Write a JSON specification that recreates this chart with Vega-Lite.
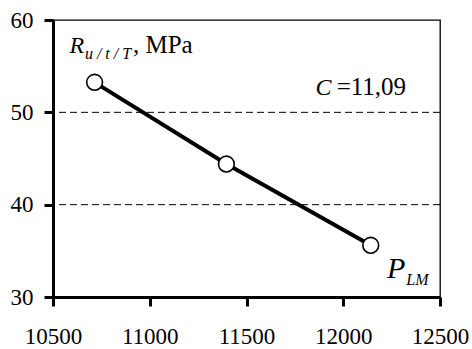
{
  "$schema": "https://vega.github.io/schema/vega-lite/v6.json",
  "width": 387,
  "height": 277,
  "autosize": {"type": "none"},
  "padding": {"left": 53, "top": 20, "right": 32, "bottom": 52},
  "config": {
    "font": "Liberation Serif",
    "view": {"stroke": "black", "strokeWidth": 1.3}
  },
  "datasets": {
    "series": [
      {"PLM": 10715, "R": 53.25},
      {"PLM": 11396, "R": 44.4},
      {"PLM": 12142, "R": 35.6}
    ],
    "grid": [{"R": 40}, {"R": 50}],
    "italicBig": [
      {"PLM": 10585, "R": 56.4, "label": "R"},
      {"PLM": 11856, "R": 51.9, "label": "C"}
    ],
    "italicP": [
      {"PLM": 12226, "R": 32.05, "label": "P"}
    ],
    "italicSub": [
      {"PLM": 10665, "R": 55.8, "label": "u / t / T"},
      {"PLM": 12326, "R": 31.29, "label": "LM"}
    ],
    "regular": [
      {"PLM": 10913, "R": 56.4, "label": ", MPa"},
      {"PLM": 11966, "R": 51.9, "label": "=11,09"}
    ]
  },
  "layer": [
    {
      "data": {"name": "grid"},
      "mark": {"type": "rule", "color": "black", "strokeWidth": 1, "strokeDash": [7, 4]},
      "encoding": {
        "y": {"field": "R", "type": "quantitative", "scale": {"domain": [30, 60], "nice": false, "zero": false}}
      }
    },
    {
      "data": {"name": "series"},
      "mark": {"type": "line", "color": "black", "strokeWidth": 4},
      "encoding": {
        "x": {"field": "PLM", "type": "quantitative", "scale": {"domain": [10500, 12500], "nice": false, "zero": false},
              "axis": {"values": [10500, 11000, 11500, 12000, 12500], "format": "d", "title": null, "grid": false, "labelFlush": false,
                       "labelFont": "Liberation Serif", "labelFontSize": 23, "labelColor": "black", "labelPadding": 19,
                       "tickSize": 9, "tickWidth": 3, "tickColor": "black", "domainWidth": 3, "domainColor": "black"}},
        "y": {"field": "R", "type": "quantitative", "scale": {"domain": [30, 60], "nice": false, "zero": false},
              "axis": {"values": [30, 40, 50, 60], "title": null, "grid": false, "labelFlush": false,
                       "labelFont": "Liberation Serif", "labelFontSize": 23, "labelColor": "black", "labelPadding": 11,
                       "tickSize": 9, "tickWidth": 3, "tickColor": "black", "domainWidth": 3, "domainColor": "black"}}
      }
    },
    {
      "data": {"name": "series"},
      "mark": {"type": "point", "shape": "circle", "filled": true, "fill": "white", "stroke": "black", "strokeWidth": 1.6, "size": 250, "opacity": 1},
      "encoding": {
        "x": {"field": "PLM", "type": "quantitative"},
        "y": {"field": "R", "type": "quantitative"}
      }
    },
    {
      "data": {"name": "italicBig"},
      "mark": {"type": "text", "font": "Liberation Serif", "fontStyle": "italic", "fontSize": 24, "align": "left", "baseline": "alphabetic", "color": "black"},
      "encoding": {
        "x": {"field": "PLM", "type": "quantitative"},
        "y": {"field": "R", "type": "quantitative"},
        "text": {"field": "label"}
      }
    },
    {
      "data": {"name": "italicP"},
      "mark": {"type": "text", "font": "Liberation Serif", "fontStyle": "italic", "fontSize": 30, "align": "left", "baseline": "alphabetic", "color": "black"},
      "encoding": {
        "x": {"field": "PLM", "type": "quantitative"},
        "y": {"field": "R", "type": "quantitative"},
        "text": {"field": "label"}
      }
    },
    {
      "data": {"name": "italicSub"},
      "mark": {"type": "text", "font": "Liberation Serif", "fontStyle": "italic", "fontSize": 16, "align": "left", "baseline": "alphabetic", "color": "black"},
      "encoding": {
        "x": {"field": "PLM", "type": "quantitative"},
        "y": {"field": "R", "type": "quantitative"},
        "text": {"field": "label"}
      }
    },
    {
      "data": {"name": "regular"},
      "mark": {"type": "text", "font": "Liberation Serif", "fontSize": 25, "align": "left", "baseline": "alphabetic", "color": "black"},
      "encoding": {
        "x": {"field": "PLM", "type": "quantitative"},
        "y": {"field": "R", "type": "quantitative"},
        "text": {"field": "label"}
      }
    }
  ]
}
